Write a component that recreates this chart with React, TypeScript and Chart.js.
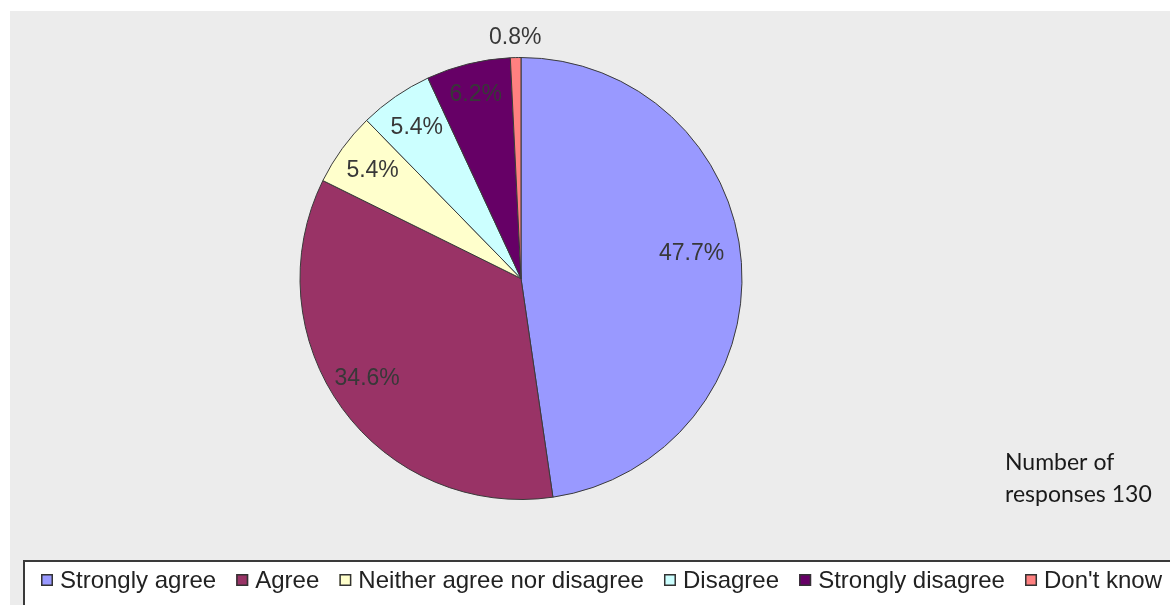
import React, { useEffect, useRef } from "react";
import { Chart, registerables } from "chart.js";

Chart.register(...registerables);

// ---- data ----
const categories = [
  "Strongly agree",
  "Agree",
  "Neither agree nor disagree",
  "Disagree",
  "Strongly disagree",
  "Don't know",
];
const responses = [62, 45, 7, 7, 8, 1];
const totalResponses = 130;
const noteLines = ["Number of", `responses ${totalResponses}`];

// ---- styles ----
const sliceColors = ["#9999ff", "#993366", "#ffffcc", "#ccffff", "#660066", "#ff8080"];
const labelRadiusFactor = [0.78, 0.83, 0.83, 0.83, 0.855, 1.09];
const labelAngleShiftDeg = [-4, 3, 0, 0, 0, 0];

const W = 1160;
const H = 594;

const pctLabel = (v: number) => ((v / totalResponses) * 100).toFixed(1) + "%";

const sliceLabelPlugin = {
  id: "sliceLabels",
  afterDatasetsDraw(chart: any) {
    const ctx = chart.ctx;
    const meta = chart.getDatasetMeta(0);
    const values = chart.data.datasets[0].data as number[];
    ctx.save();
    ctx.font = "23px 'Liberation Sans', Arial, sans-serif";
    ctx.fillStyle = "#383838";
    ctx.textAlign = "center";
    ctx.textBaseline = "middle";
    meta.data.forEach((arc: any, i: number) => {
      const p = arc.getProps(["x", "y", "startAngle", "endAngle", "outerRadius"], true);
      const mid = (p.startAngle + p.endAngle) / 2 + (labelAngleShiftDeg[i] * Math.PI) / 180;
      const r = p.outerRadius * labelRadiusFactor[i];
      ctx.fillText(pctLabel(values[i]), p.x + Math.cos(mid) * r, p.y + Math.sin(mid) * r);
    });
    ctx.restore();
  },
};

const legendPlugin = {
  id: "boxLegend",
  afterDraw(chart: any) {
    const ctx = chart.ctx;
    const labels = chart.data.labels as string[];
    const colors = chart.data.datasets[0].backgroundColor as string[];
    ctx.save();
    // legend frame
    ctx.fillStyle = "#ffffff";
    ctx.fillRect(13, 549, W, 100);
    ctx.strokeStyle = "#3a3a3a";
    ctx.lineWidth = 2;
    ctx.strokeRect(14, 550, W + 10, 100);

    ctx.font = "24px 'Liberation Sans', Arial, sans-serif";
    const box = 12;
    const boxGap = 7;
    const startX = 31;
    const endX = 1152;
    const widths = labels.map((l) => ctx.measureText(l).width);
    const total = widths.reduce((a, b) => a + b, 0) + labels.length * (box + boxGap);
    const gap = (endX - startX - total) / (labels.length - 1);
    const cy = 569;
    let x = startX;
    ctx.textBaseline = "middle";
    ctx.textAlign = "left";
    labels.forEach((l, i) => {
      ctx.fillStyle = colors[i];
      ctx.fillRect(x, cy - box / 2, box, box);
      ctx.strokeStyle = "#333333";
      ctx.lineWidth = 1.5;
      ctx.strokeRect(x + 0.75, cy - box / 2 + 0.75, box - 1.5, box - 1.5);
      ctx.fillStyle = "#222222";
      ctx.fillText(l, x + box + boxGap, cy + 1);
      x += box + boxGap + widths[i] + gap;
    });

    // note text
    ctx.font = "23px Lato, 'Open Sans', sans-serif";
    ctx.fillStyle = "#1a1a1a";
    ctx.textBaseline = "alphabetic";
    ctx.fillText(noteLines[0], 995, 459);
    ctx.fillText(noteLines[1], 995, 491);
    ctx.restore();
  },
};

export default function App() {
  const ref = useRef<HTMLCanvasElement | null>(null);

  useEffect(() => {
    if (!ref.current) return;
    const chart = new Chart(ref.current, {
      type: "pie",
      data: {
        labels: categories,
        datasets: [
          {
            data: responses,
            backgroundColor: sliceColors,
            borderColor: "#3a3a3a",
            borderWidth: 1,
          },
        ],
      },
      options: {
        responsive: false,
        animation: false,
        devicePixelRatio: 1,
        layout: { padding: { left: 289.5, right: 427.5, top: 46, bottom: 105 } },
        plugins: {
          legend: { display: false },
          tooltip: { enabled: false },
        },
      },
      plugins: [sliceLabelPlugin, legendPlugin],
    });
    return () => chart.destroy();
  }, []);

  return (
    <div
      style={{
        position: "fixed",
        left: 10,
        top: 11,
        width: W,
        height: H,
        background: "#ececec",
        overflow: "hidden",
      }}
    >
      <canvas ref={ref} width={W} height={H} style={{ display: "block" }} />
    </div>
  );
}
